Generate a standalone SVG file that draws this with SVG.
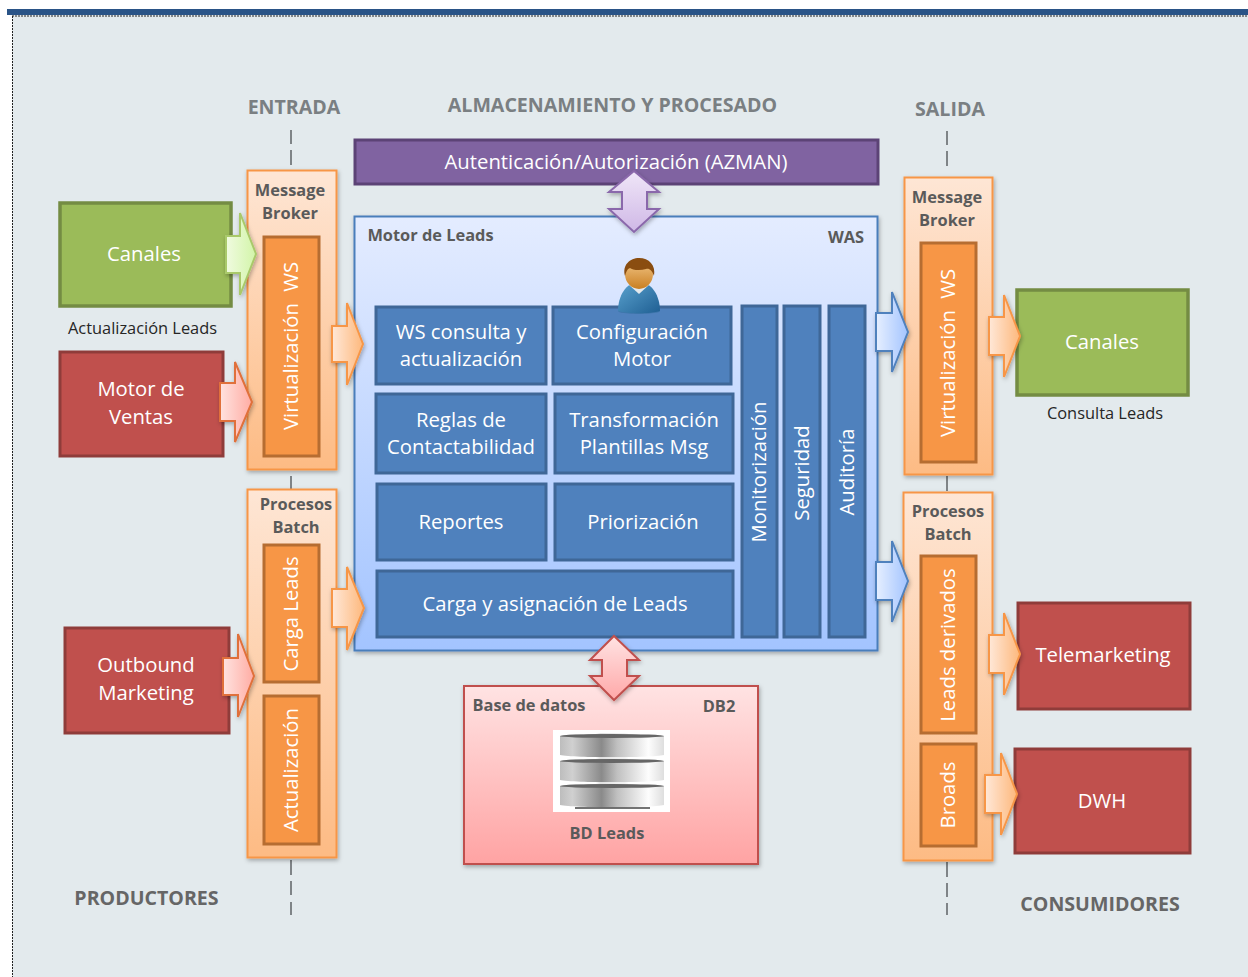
<svg xmlns="http://www.w3.org/2000/svg" width="1248" height="977" viewBox="0 0 1248 977">
<style>
text{font-family:"Open Sans","Noto Sans","Liberation Sans",sans-serif;text-anchor:middle}
.w{fill:#fff;font-size:20.300px}
.h{fill:#5a5a5a;font-size:16.400px;font-weight:700}
.t{fill:#7a7f82;font-size:19.600px;font-weight:700}
.n{fill:#262626;font-size:16.400px}
.blue{fill:#4f81bd;stroke:#3f6797;stroke-width:3}
.or{fill:#f79646;stroke:#b66d31;stroke-width:3}
.gr{fill:#9bbb59;stroke:#748c43;stroke-width:3.500}
.rd{fill:#c0504d;stroke:#8f3c3a;stroke-width:3}
.pn{fill:url(#gOr);stroke:#f79646;stroke-width:2;filter:url(#sh)}
.dash{stroke:#7f8487;stroke-width:2;fill:none}
</style>
<defs>
<filter id="sh" x="-10%" y="-10%" width="125%" height="125%"><feDropShadow dx="1" dy="2" stdDeviation="2" flood-color="#000" flood-opacity=".3"/></filter>
<linearGradient id="gOr" x1="0" y1="0" x2="0" y2="1"><stop offset="0" stop-color="#fee6d5"/><stop offset="1" stop-color="#fdbb84"/></linearGradient>
<linearGradient id="gBl" x1="0" y1="0" x2="0" y2="1"><stop offset="0" stop-color="#e4ecff"/><stop offset="1" stop-color="#a3c4ff"/></linearGradient>
<linearGradient id="gRd" x1="0" y1="0" x2="0" y2="1"><stop offset="0" stop-color="#ffe3e3"/><stop offset="1" stop-color="#ffa3a3"/></linearGradient>
<linearGradient id="aGr" x1="0" y1="0" x2="1" y2="0"><stop offset="0" stop-color="#f0fbe0"/><stop offset="1" stop-color="#d2f5a8"/></linearGradient>
<linearGradient id="aRd" x1="0" y1="0" x2="1" y2="0"><stop offset="0" stop-color="#ffe3e0"/><stop offset="1" stop-color="#ffaca3"/></linearGradient>
<linearGradient id="aOr" x1="0" y1="0" x2="1" y2="0"><stop offset="0" stop-color="#ffe8d8"/><stop offset="1" stop-color="#fdb87c"/></linearGradient>
<linearGradient id="aBl" x1="0" y1="0" x2="1" y2="0"><stop offset="0" stop-color="#e6efff"/><stop offset="1" stop-color="#a3c4ff"/></linearGradient>
<linearGradient id="aPu" x1="0" y1="0" x2="0" y2="1"><stop offset="0" stop-color="#f0e6f8"/><stop offset="1" stop-color="#cfb8e6"/></linearGradient>
<linearGradient id="aRv" x1="0" y1="0" x2="0" y2="1"><stop offset="0" stop-color="#ffe3e3"/><stop offset="1" stop-color="#ffa8a8"/></linearGradient>
<linearGradient id="cyl" x1="0" y1="0" x2="1" y2="0"><stop offset="0" stop-color="#bdbdbd"/><stop offset=".12" stop-color="#d0d0d0"/><stop offset=".4" stop-color="#8a8a8a"/><stop offset=".55" stop-color="#c0c0c0"/><stop offset=".85" stop-color="#fdfdfd"/><stop offset="1" stop-color="#dedede"/></linearGradient>
<linearGradient id="shirt" x1="0" y1="0" x2="1" y2="1"><stop offset="0" stop-color="#5ba3cf"/><stop offset="1" stop-color="#1f5f93"/></linearGradient>
<linearGradient id="face" x1="0" y1="0" x2="0" y2="1"><stop offset="0" stop-color="#f4c98b"/><stop offset="1" stop-color="#c97f22"/></linearGradient>
</defs>

<rect width="1248" height="977" fill="#fff"/>
<rect x="12" y="15" width="1236" height="962" fill="#e3eaed"/>
<rect x="7" y="9" width="1241" height="6" fill="#2a5487"/>
<path d="M12.500 16V977M12 16H1248" stroke="#222" stroke-width="1" stroke-dasharray="2 1" fill="none"/>

<g id="headings">
<text class="t" x="294" y="114">ENTRADA</text>
<text class="t" x="612.500" y="112">ALMACENAMIENTO Y PROCESADO</text>
<text class="t" x="950" y="116">SALIDA</text>
<text class="t" x="146.500" y="905" style="fill:#666">PRODUCTORES</text>
<text class="t" x="1100" y="911" style="fill:#666">CONSUMIDORES</text>
</g>

<g id="connectors">
<path class="dash" d="M291 130V144M291 150V165M291 476V489M291 860V875M291 881V895M291 902V915"/>
<path class="dash" d="M947 131V145M947 151V166M947 476V491M947 862V877M947 883V897M947 903V915"/>
</g>

<g id="motor-leads">
<rect x="354.500" y="216.500" width="523" height="434" fill="url(#gBl)" stroke="#4a7ebb" stroke-width="2" filter="url(#sh)"/>
<text class="h" x="430.500" y="241">Motor de Leads</text>
<text class="h" x="846" y="243">WAS</text>
</g>

<g id="azman">
<rect x="355" y="140" width="523" height="44" class="blue" style="fill:#8063a1;stroke:#5c4376"/>
<text class="w" x="616" y="169">Autenticación/Autorización (AZMAN)</text>
</g>

<g id="n-ws"><rect x="376" y="307" width="170" height="77" class="blue"/><text class="w" x="461" y="339">WS consulta y</text><text class="w" x="461" y="366">actualización</text></g>
<g id="n-conf"><rect x="553" y="307" width="178" height="77" class="blue"/><text class="w" x="642" y="339">Configuración</text><text class="w" x="642" y="366">Motor</text></g>
<g id="n-reglas"><rect x="376" y="394" width="170" height="79" class="blue"/><text class="w" x="461" y="427">Reglas de</text><text class="w" x="461" y="454">Contactabilidad</text></g>
<g id="n-transf"><rect x="555" y="394" width="178" height="79" class="blue"/><text class="w" x="644" y="427">Transformación</text><text class="w" x="644" y="454">Plantillas Msg</text></g>
<g id="n-rep"><rect x="377" y="484" width="169" height="76" class="blue"/><text class="w" x="461" y="529">Reportes</text></g>
<g id="n-prio"><rect x="555" y="484" width="178" height="76" class="blue"/><text class="w" x="643" y="529">Priorización</text></g>
<g id="n-carga"><rect x="377" y="571" width="356" height="66" class="blue"/><text class="w" x="555" y="611">Carga y asignación de Leads</text></g>
<g id="n-mon"><rect x="742" y="306" width="35" height="331" class="blue"/><text class="w" transform="translate(766,472) rotate(-90)">Monitorización</text></g>
<g id="n-seg"><rect x="784" y="306" width="36" height="331" class="blue"/><text class="w" transform="translate(809,473) rotate(-90)">Seguridad</text></g>
<g id="n-aud"><rect x="829" y="306" width="36" height="331" class="blue"/><text class="w" transform="translate(854,472) rotate(-90)">Auditoría</text></g>

<g id="person">
<ellipse cx="639" cy="311" rx="21" ry="3" fill="#2d6a9a" opacity=".5"/>
<path d="M618 311C618 296 626 282 639 282C652 282 660 296 660 311C650 314 628 314 618 311Z" fill="url(#shirt)"/>
<path d="M628 284L639 294L650 284L645 281H633Z" fill="#e4e8ec"/>
<ellipse cx="639" cy="274" rx="14" ry="15" fill="url(#face)"/>
<path d="M625 276C622 265 630 258 639 258C649 258 656 265 654 276C652 270 649 268 646 269C640 271 632 270 630 268C627 269 626 272 625 276Z" fill="#8a4d10"/>
</g>

<g id="msg-in">
<rect x="247.500" y="170.500" width="89" height="299" class="pn"/>
<text class="h" x="290" y="196">Message</text><text class="h" x="290" y="219">Broker</text>
<rect x="264" y="237" width="55" height="219" class="or"/>
<text class="w" transform="translate(298,430) rotate(-90)" style="text-anchor:start;word-spacing:6px">Virtualización WS</text>
</g>
<g id="batch-in">
<rect x="247.500" y="489.500" width="89" height="368" class="pn"/>
<text class="h" x="296" y="510">Procesos</text><text class="h" x="296" y="533">Batch</text>
<rect x="264" y="545" width="55" height="137" class="or"/>
<text class="w" transform="translate(298,614) rotate(-90)">Carga Leads</text>
<rect x="264" y="696" width="55" height="148" class="or"/>
<text class="w" transform="translate(298,770) rotate(-90)">Actualización</text>
</g>
<g id="msg-out">
<rect x="904.500" y="177.500" width="88" height="297" class="pn"/>
<text class="h" x="947" y="203">Message</text><text class="h" x="947" y="226">Broker</text>
<rect x="921" y="243" width="55" height="219" class="or"/>
<text class="w" transform="translate(955,437) rotate(-90)" style="text-anchor:start;word-spacing:6px">Virtualización WS</text>
</g>
<g id="batch-out">
<rect x="903.500" y="492.500" width="89" height="368" class="pn"/>
<text class="h" x="948" y="517">Procesos</text><text class="h" x="948" y="540">Batch</text>
<rect x="921" y="556" width="55" height="177" class="or"/>
<text class="w" transform="translate(955,645) rotate(-90)">Leads derivados</text>
<rect x="921" y="744" width="55" height="102" class="or"/>
<text class="w" transform="translate(955,795) rotate(-90)">Broads</text>
</g>

<g id="canales-in"><rect x="60" y="203" width="171" height="103" class="gr"/><text class="w" x="144" y="261">Canales</text></g>
<text class="n" x="142.500" y="334">Actualización Leads</text>
<g id="motor-ventas"><rect x="60" y="352" width="163" height="104" class="rd"/><text class="w" x="141" y="396">Motor de</text><text class="w" x="141" y="424">Ventas</text></g>
<g id="outbound"><rect x="65" y="628" width="164" height="105" class="rd"/><text class="w" x="146" y="672">Outbound</text><text class="w" x="146" y="700">Marketing</text></g>
<g id="canales-out"><rect x="1017" y="290" width="171" height="105" class="gr"/><text class="w" x="1102" y="349">Canales</text></g>
<text class="n" x="1105" y="419">Consulta Leads</text>
<g id="telemarketing"><rect x="1018" y="603" width="172" height="106" class="rd"/><text class="w" x="1103" y="662">Telemarketing</text></g>
<g id="dwh"><rect x="1015" y="749" width="175" height="104" class="rd"/><text class="w" x="1102" y="808">DWH</text></g>

<g id="db">
<rect x="464" y="686" width="294" height="178" fill="url(#gRd)" stroke="#c0504d" stroke-width="2" filter="url(#sh)"/>
<text class="h" x="529" y="711">Base de datos</text>
<text class="h" x="719" y="712">DB2</text>
<rect x="553" y="730" width="117" height="82" fill="#fff"/>
<g id="db-icon">
<path d="M560 736C575 733 650 733 664 736V755C650 758 575 758 560 755Z" fill="url(#cyl)"/>
<ellipse cx="612" cy="736" rx="52" ry="2" fill="#666"/>
<path d="M560 761C575 758 650 758 664 761V780C650 783 575 783 560 780Z" fill="url(#cyl)"/>
<ellipse cx="612" cy="761" rx="52" ry="2" fill="#666"/>
<path d="M560 786C575 783 650 783 664 786V805C650 808 575 808 560 805Z" fill="url(#cyl)"/>
<ellipse cx="612" cy="786" rx="52" ry="2" fill="#666"/>
<path d="M575 808H650" stroke="#444" stroke-width="1.500"/>
</g>
<text class="h" x="607" y="839">BD Leads</text>
</g>

<g id="arrows" stroke-width="2" filter="url(#sh)" stroke-linejoin="miter">
<polygon points="226,236 240,236 240,213 256,254 240,295 240,273 226,273" fill="url(#aGr)" stroke="#a9c96b"/>
<polygon points="220,383 235,383 235,362 252,402 235,442 235,421 220,421" fill="url(#aRd)" stroke="#e0703a"/>
<polygon points="223,658 238,658 238,634 254,676 238,717 238,695 223,695" fill="url(#aRd)" stroke="#e0703a"/>
<polygon points="332,326 347,326 347,303 363,344 347,385 347,362 332,362" fill="url(#aOr)" stroke="#f79646"/>
<polygon points="332,589 347,589 347,567 364,608 347,650 347,627 332,627" fill="url(#aOr)" stroke="#f79646"/>
<polygon points="876,313 892,313 892,292 908,332 892,372 892,351 876,351" fill="url(#aBl)" stroke="#4f81bd"/>
<polygon points="876,562 892,562 892,541 908,581 892,622 892,600 876,600" fill="url(#aBl)" stroke="#4f81bd"/>
<polygon points="989,317 1004,317 1004,295 1020,336 1004,377 1004,355 989,355" fill="url(#aOr)" stroke="#f79646"/>
<polygon points="989,635 1004,635 1004,613 1020,654 1004,695 1004,673 989,673" fill="url(#aOr)" stroke="#f79646"/>
<polygon points="985,775 1001,775 1001,753 1017,794 1001,835 1001,813 985,813" fill="url(#aOr)" stroke="#f79646"/>
<polygon points="634,171 659,192 647,192 647,209 659,209 634,232 609,209 622,209 622,192 609,192" fill="url(#aPu)" stroke="#8a68ab"/>
<polygon points="614,636 639,660 627,660 627,676 639,676 614,700 590,676 602,676 602,660 590,660" fill="url(#aRv)" stroke="#c0504d"/>
</g>
</svg>
